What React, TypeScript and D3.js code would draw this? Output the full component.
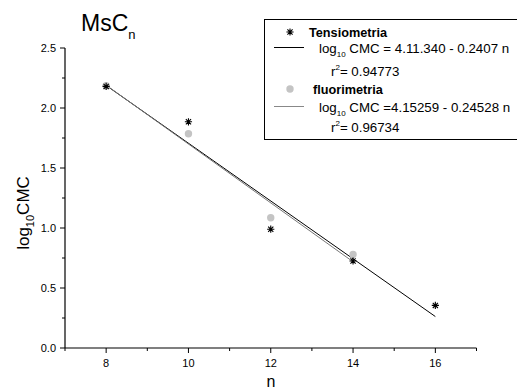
import React from "react";
import * as d3 from "d3";

const tensN = [8, 10, 12, 14, 16];
const tensVals = [2.18, 1.885, 0.99, 0.725, 0.355];
const fluorN = [8, 10, 12, 14];
const fluorVals = [2.185, 1.785, 1.085, 0.78];
const tensFit = { a: 4.1134, b: 0.2407, n0: 8, n1: 16 };
const fluorFit = { a: 4.15259, b: 0.24528, n0: 8, n1: 14 };
const xMajor = [8, 10, 12, 14, 16];
const xMinor = [7, 9, 11, 13, 15, 17];
const yMajor = [0, 0.5, 1.0, 1.5, 2.0, 2.5];
const yMinor = [0.25, 0.75, 1.25, 1.75, 2.25];

const W = 517, H = 389;
const FONT = "'Liberation Sans', Arial, sans-serif";

function Star({ cx, cy, r }: { cx: number; cy: number; r: number }) {
  const d = r * 0.72;
  return (
    <path
      d={`M${cx - r},${cy}H${cx + r}M${cx},${cy - r}V${cy + r}M${cx - d},${cy - d}L${cx + d},${cy + d}M${cx - d},${cy + d}L${cx + d},${cy - d}`}
      stroke="#000"
      strokeWidth={1.1}
      fill="none"
    />
  );
}

export default function App() {
  const x = d3.scaleLinear().domain([7, 17]).range([65, 476.5]);
  const y = d3.scaleLinear().domain([0, 2.5]).range([348, 48]);
  const fitPath = (f: { a: number; b: number; n0: number; n1: number }) =>
    d3
      .line<number>()
      .x((n) => x(n))
      .y((n) => y(f.a - f.b * n))([f.n0, f.n1]) as string;

  return (
    <svg
      width={W}
      height={H}
      style={{ position: "absolute", left: 0, top: 0, background: "#fff" }}
      fontFamily={FONT}
    >
      {/* title */}
      <text x={81} y={31} fontSize={23} fill="#000">
        MsC
        <tspan fontSize={13} dy={8}>n</tspan>
      </text>

      {/* axes */}
      <line x1={x(7)} x2={x(17)} y1={y(0)} y2={y(0)} stroke="#000" strokeWidth={1.2} />
      <line x1={x(7)} x2={x(7)} y1={y(0)} y2={y(2.5)} stroke="#000" strokeWidth={1.2} />
      {xMajor.map((v) => (
        <g key={"xm" + v}>
          <line x1={x(v)} x2={x(v)} y1={y(0)} y2={y(0) + 5} stroke="#000" />
          <text x={x(v)} y={y(0) + 19} fontSize={11} textAnchor="middle">
            {v}
          </text>
        </g>
      ))}
      {xMinor.map((v) => (
        <line key={"xn" + v} x1={x(v)} x2={x(v)} y1={y(0)} y2={y(0) + 3} stroke="#000" />
      ))}
      {yMajor.map((v) => (
        <g key={"ym" + v}>
          <line x1={x(7) - 5} x2={x(7)} y1={y(v)} y2={y(v)} stroke="#000" />
          <text x={x(7) - 9} y={y(v)} dy="0.35em" fontSize={11} textAnchor="end">
            {v.toFixed(1)}
          </text>
        </g>
      ))}
      {yMinor.map((v) => (
        <line key={"yn" + v} x1={x(7) - 3} x2={x(7)} y1={y(v)} y2={y(v)} stroke="#000" />
      ))}

      {/* axis labels */}
      <text x={271} y={387} fontSize={16} textAnchor="middle">
        n
      </text>
      <text transform="translate(29,213) rotate(-90)" fontSize={17} textAnchor="middle">
        log
        <tspan fontSize={11} dy={5}>10</tspan>
        <tspan dy={-5}>CMC</tspan>
      </text>

      {/* fits */}
      <path d={fitPath(tensFit)} stroke="#000" strokeWidth={1} fill="none" />
      <path d={fitPath(fluorFit)} stroke="#777" strokeWidth={1} fill="none" />

      {/* points */}
      {fluorN.map((n, i) => (
        <circle key={"f" + n} cx={x(n)} cy={y(fluorVals[i])} r={3.7} fill="#c4c4c4" />
      ))}
      {tensN.map((n, i) => (
        <Star key={"t" + n} cx={x(n)} cy={y(tensVals[i])} r={3.6} />
      ))}

      {/* legend */}
      <rect x={264.5} y={19.5} width={260} height={120} fill="none" stroke="#000" strokeWidth={1} />
      <Star cx={290} cy={32} r={3.6} />
      <text x={309} y={36.5} fontSize={12.7} fontWeight="bold">
        Tensiometria
      </text>
      <line x1={274} x2={304} y1={47.5} y2={47.5} stroke="#000" />
      <text x={319} y={53} fontSize={13.3}>
        log<tspan fontSize={8} dy={4}>10</tspan>
        <tspan dy={-4}> CMC = 4.11.340 - 0.2407 n</tspan>
      </text>
      <text x={331} y={76} fontSize={13.3}>
        r<tspan fontSize={8} dy={-6}>2</tspan>
        <tspan dy={6}>= 0.94773</tspan>
      </text>
      <circle cx={290} cy={89} r={3.7} fill="#c4c4c4" />
      <text x={313} y={93.5} fontSize={12.7} fontWeight="bold">
        fluorimetria
      </text>
      <line x1={274} x2={304} y1={106.5} y2={106.5} stroke="#888" />
      <text x={319} y={111.5} fontSize={13.3}>
        log<tspan fontSize={8} dy={4}>10</tspan>
        <tspan dy={-4}> CMC =4.15259 - 0.24528 n</tspan>
      </text>
      <text x={331} y={132} fontSize={13.3}>
        r<tspan fontSize={8} dy={-6}>2</tspan>
        <tspan dy={6}>= 0.96734</tspan>
      </text>
    </svg>
  );
}
